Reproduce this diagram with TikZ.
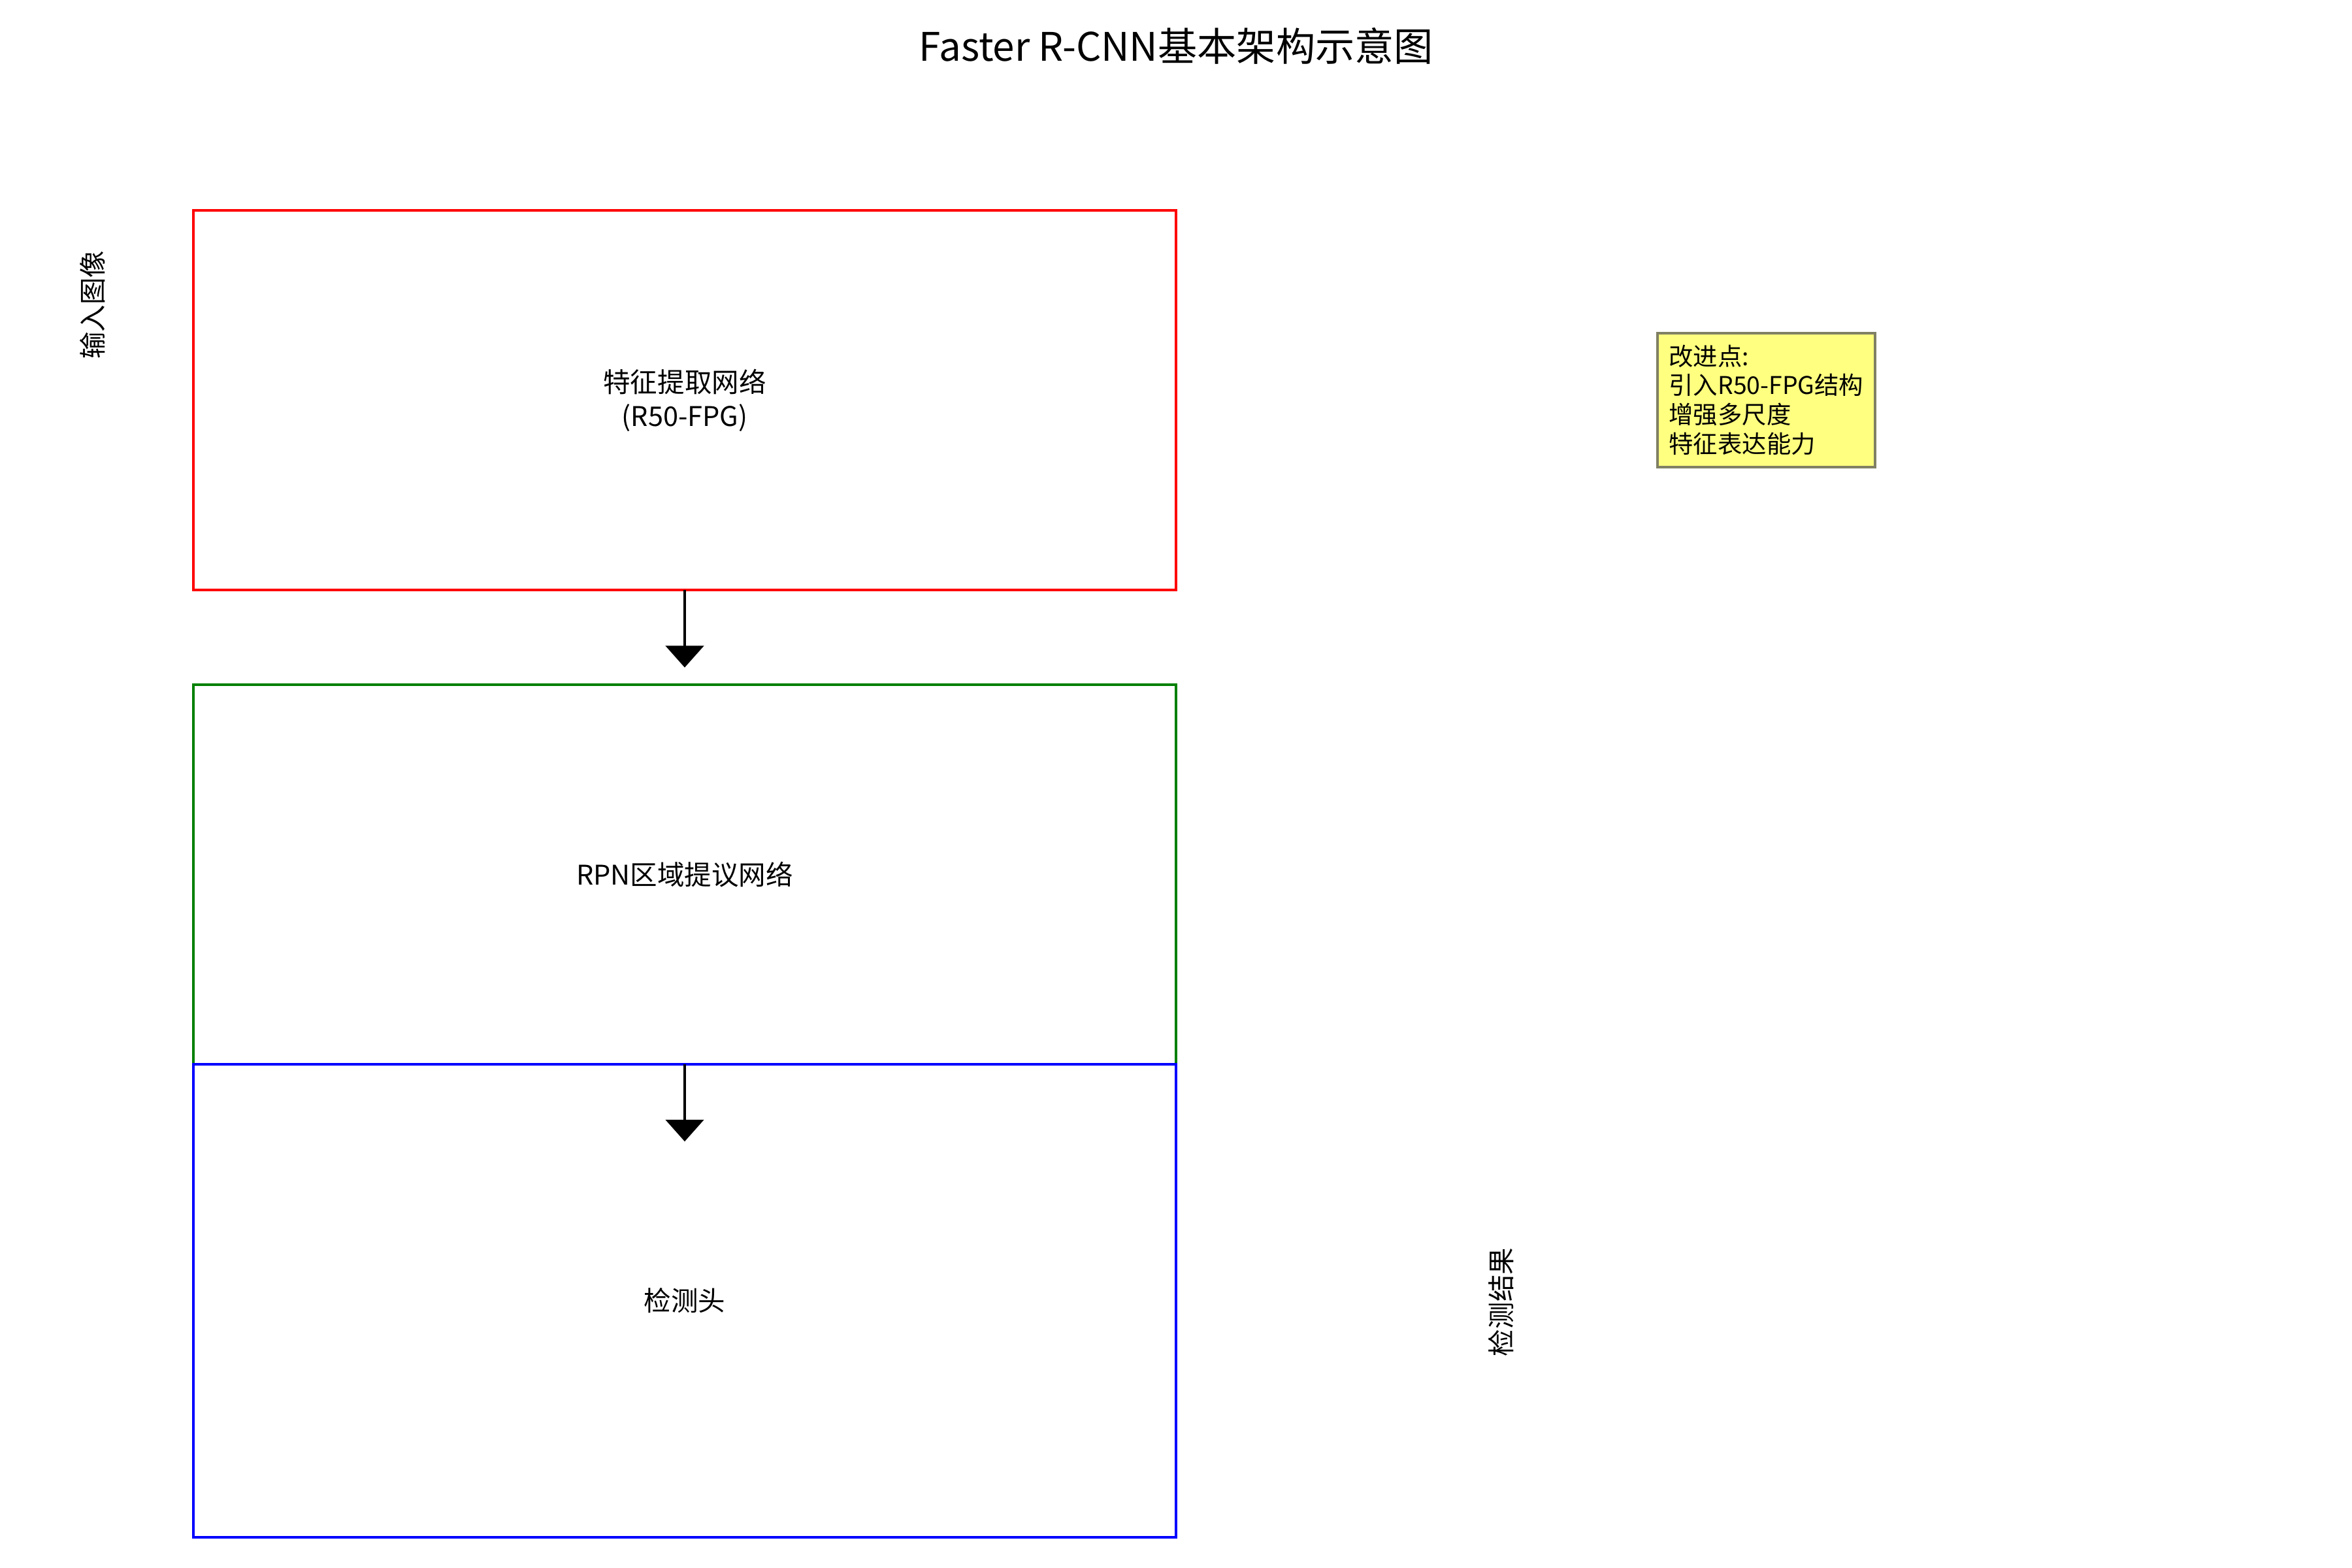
\documentclass[tikz,border=0pt]{standalone}
\usepackage{fontspec}
\usepackage{xcolor}
\usepackage{tikz}
\usetikzlibrary{arrows.meta,positioning}
\newfontfamily\cjk{Noto Sans CJK SC}
\definecolor{notefill}{RGB}{255,255,128}
\definecolor{noteedge}{RGB}{128,128,100}
\definecolor{rpngreen}{RGB}{0,128,0}

\begin{document}
\begin{tikzpicture}[
  font=\cjk\fontsize{10}{12.5}\selectfont,
  stage/.style={draw, line width=1pt, align=center, outer sep=0pt,
                minimum width=12.734cm},
  side/.style={rotate=90, inner sep=0pt},
  note/.style={draw=noteedge, fill=notefill, line width=1pt, align=left,
               inner sep=4.3pt, font=\cjk\fontsize{9}{10.8}\selectfont},
  arr/.style={-{Triangle[length=8pt, width=14pt]}, line width=1pt, black}
]
\useasboundingbox (0,0) rectangle (30.48,20.32);
\node (title) at (15.24,19.72) {\fontsize{14.5}{17}\selectfont Faster R-CNN基本架构示意图};
\node[stage, draw=red, minimum height=4.919cm] (feat) at (8.873,15.134)
  {特征提取网络\\(R50-FPG)};
\node[stage, draw=rpngreen, minimum height=4.922cm, below=1.225cm of feat] (rpn)
  {RPN区域提议网络};
\node[stage, draw=blue, minimum height=6.13cm, below=0pt of rpn] (head)
  {检测头};
\node[side] (input) at (1.202,16.37) {输入图像};
\node[side] (result) at (19.45,3.446) {检测结果};
\node[note, anchor=north west] (improve) at (21.46,16.02)
  {改进点:\\引入R50-FPG结构\\增强多尺度\\特征表达能力};
\draw[arr] (feat.south) -- ([yshift=0.22cm]rpn.north);
\draw[arr] (rpn.south) -- ([yshift=-1.0cm]head.north);
\end{tikzpicture}
\end{document}
